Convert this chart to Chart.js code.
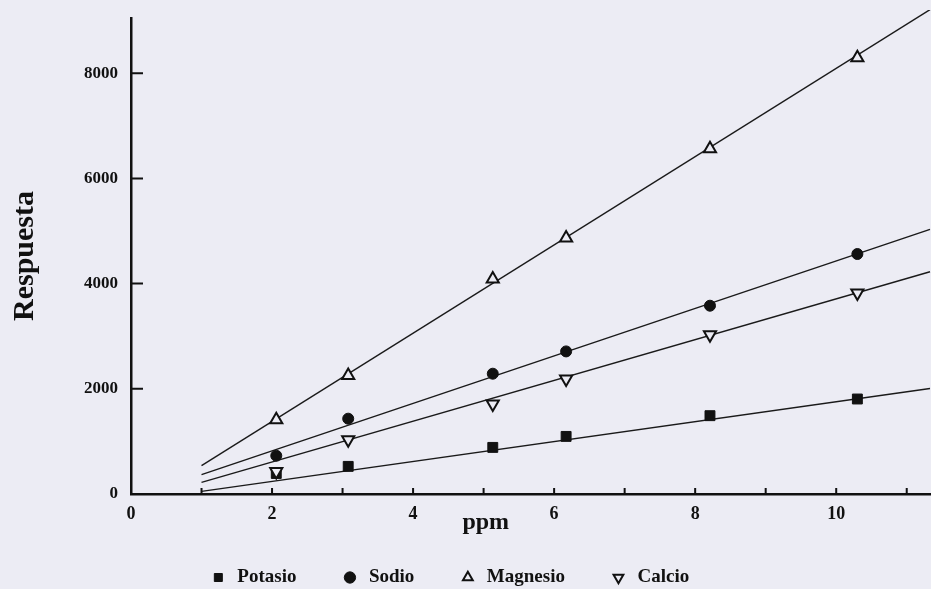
<!DOCTYPE html>
<html>
<head>
<meta charset="utf-8">
<script src="https://cdn.jsdelivr.net/npm/chart.js@4.4.1/dist/chart.umd.min.js"></script>
<style>
html,body{margin:0;padding:0;background:#ececf4;}
#wrap{width:931px;height:589px;position:relative;}
</style>
</head>
<body>
<div id="wrap"><canvas id="c" width="931" height="589"></canvas></div>
<script>
// ---- data ----
const ppm = [2.06, 3.08, 5.13, 6.17, 8.21, 10.30];
const potasio  = [390, 525, 886, 1095, 1489, 1806];
const sodio    = [728, 1432, 2287, 2711, 3580, 4563];
const magnesio = [1413, 2253, 4087, 4867, 6565, 8294];
const calcio   = [430, 1032, 1711, 2186, 3029, 3821];
// regression lines (end points)
const fitX = [1, 11.33];
const potasioFit  = [50, 2006];
const sodioFit    = [367, 5030];
const magnesioFit = [538, 9209];
const calcioFit   = [221, 4226];
// axis ticks
const xTickLabels = [0, 2, 4, 6, 8, 10];
const xTickMarks  = [1, 2, 3, 4, 5, 6, 7, 8, 9, 10, 11];
const yTickLabels = [0, 2000, 4000, 6000, 8000];
const seriesNames = ['Potasio', 'Sodio', 'Magnesio', 'Calcio'];

const BG = '#ececf4';
const INK = '#111111';
const SERIF = '"Liberation Serif", "DejaVu Serif", serif';

const pts = (xs, ys) => xs.map((x, i) => ({x: x, y: ys[i]}));

function scatterSet(label, ys, style, open, rot, r, ord) {
  return {
    type: 'scatter', label: label, data: pts(ppm, ys),
    pointStyle: style, pointRotation: rot || 0, pointRadius: r,
    backgroundColor: open ? BG : INK, borderColor: INK,
    borderWidth: open ? 2 : 1, order: ord
  };
}
function fitSet(ys) {
  return {
    type: 'line', label: '_fit', data: pts(fitX, ys), showLine: true,
    pointRadius: 0, borderColor: '#1a1a1a', borderWidth: 1.4,
    fill: false, tension: 0, order: 9,
    clip: {left: 0, right: 2, top: 8, bottom: 0}
  };
}

const bgPlugin = {
  id: 'bg',
  beforeDraw(chart) {
    const ctx = chart.ctx;
    ctx.save(); ctx.fillStyle = BG; ctx.fillRect(0, 0, chart.width, chart.height); ctx.restore();
  }
};
const legendFit = {
  id: 'legendFit',
  beforeLayout(chart) {
    const lg = chart.legend;
    if (lg && !lg._patched) {
      const orig = lg.fit;
      lg.fit = function () { orig.call(this); this.height = 65; };
      lg._patched = true;
    }
  },
  afterLayout(chart) {
    const lg = chart.legend;
    if (lg) { lg.left -= 16; lg.right -= 16; }
  }
};
const extras = {
  id: 'extras',
  afterDraw(chart) {
    const ctx = chart.ctx, xs = chart.scales.x, ys = chart.scales.y, a = chart.chartArea;
    ctx.save();
    ctx.strokeStyle = INK; ctx.lineWidth = 2;
    ctx.beginPath();
    xTickMarks.forEach(v => { const px = xs.getPixelForValue(v); ctx.moveTo(px, a.bottom); ctx.lineTo(px, a.bottom - 6); });
    yTickLabels.forEach(v => { if (v === 0) return; const py = ys.getPixelForValue(v); ctx.moveTo(a.left, py); ctx.lineTo(a.left + 12, py); });
    ctx.stroke();
    // x axis title
    ctx.fillStyle = INK;
    ctx.font = 'bold 24px ' + SERIF;
    ctx.textAlign = 'center'; ctx.textBaseline = 'alphabetic';
    ctx.fillText('ppm', a.left + (a.right - a.left) * 0.444, a.bottom + 35);
    ctx.restore();
  }
};

new Chart(document.getElementById('c'), {
  data: {
    datasets: [
      scatterSet(seriesNames[0], potasio, 'rect', false, 0, 7, 4),
      scatterSet(seriesNames[1], sodio, 'circle', false, 0, 5.5, 3),
      scatterSet(seriesNames[2], magnesio, 'triangle', true, 0, 7, 2),
      scatterSet(seriesNames[3], calcio, 'triangle', true, 180, 7, 1),
      fitSet(potasioFit), fitSet(sodioFit), fitSet(magnesioFit), fitSet(calcioFit)
    ]
  },
  options: {
    responsive: false, animation: false, devicePixelRatio: 1,
    layout: {autoPadding: false, padding: {left: 0, right: 1, top: 18, bottom: 0}},
    scales: {
      x: {
        type: 'linear', min: 0, max: 11.33,
        grid: {display: false, drawTicks: false},
        border: {display: true, color: INK, width: 2.5},
        afterBuildTicks: s => { s.ticks = xTickLabels.map(v => ({value: v})); },
        afterFit: s => { s.height = 30; s.paddingLeft = 0; s.paddingRight = 0; },
        ticks: {color: INK, font: {family: SERIF, size: 18, weight: 'bold'}, padding: 10, maxRotation: 0,
                callback: v => String(v)}
      },
      y: {
        type: 'linear', min: 0, max: 9050,
        grid: {display: false, drawTicks: false},
        border: {display: true, color: INK, width: 2.5},
        afterBuildTicks: s => { s.ticks = yTickLabels.map(v => ({value: v})); },
        afterFit: s => { s.width = 131; s.paddingTop = 0; s.paddingBottom = 0; },
        ticks: {color: INK, font: {family: SERIF, size: 17, weight: 'bold'}, padding: 13,
                callback: v => String(v)},
        title: {display: true, text: 'Respuesta', color: INK, font: {family: SERIF, size: 30, weight: 'bold'}, padding: {top: 7, bottom: 0}}
      }
    },
    plugins: {
      legend: {
        display: true, position: 'bottom',
        labels: {
          usePointStyle: true, boxWidth: 19, boxHeight: 8, padding: 44, color: INK,
          font: {family: SERIF, size: 19, weight: 'bold'},
          filter: item => item.text !== '_fit',
          sort: (a, b) => a.datasetIndex - b.datasetIndex
        }
      },
      tooltip: {enabled: false}
    }
  },
  plugins: [bgPlugin, legendFit, extras]
});
</script>
</body>
</html>
